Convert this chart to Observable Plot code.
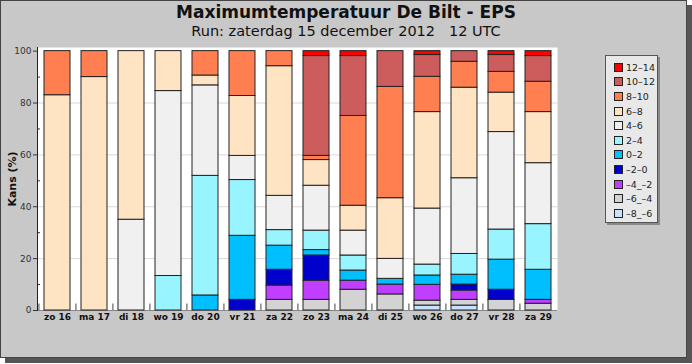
<!DOCTYPE html>
<html><head><meta charset="utf-8">
<script src="https://cdn.jsdelivr.net/npm/d3@7"></script>
<script src="https://cdn.jsdelivr.net/npm/@observablehq/plot@0.6"></script>
<style>
html,body{margin:0;padding:0;background:#fff;}
#wrap{position:relative;width:692px;height:364px;overflow:hidden;font-family:"DejaVu Sans",sans-serif;}
#panel{position:absolute;left:0;top:0;width:685px;height:356px;background:#c8c8c8;border:1px solid #444;box-shadow:5px 5px 0 #555;}
#title{position:absolute;left:0;top:0;width:692px;height:22px;text-align:center;font-weight:bold;font-size:17px;line-height:24px;color:#111;}
#sub{position:absolute;left:0;top:22px;width:692px;height:18px;text-align:center;font-size:14.5px;line-height:18px;color:#111;white-space:pre;}
#chart{position:absolute;left:0;top:40px;}
#ylab{position:absolute;left:12px;top:179px;transform:translate(-50%,-50%) rotate(-90deg);font-weight:bold;font-size:11px;color:#111;white-space:nowrap;}
#legend{position:absolute;left:605px;top:55px;width:53px;height:168px;background:#e8e8e8;border:1px solid #555;box-shadow:2px 2px 0 #8a8a8a;box-sizing:border-box;padding-top:4px;}
.li{height:14.6px;display:flex;align-items:center;padding-left:8px;font-size:9.5px;color:#222;white-space:nowrap;}
.sw{width:7px;height:7px;border:1px solid #222;margin-right:3px;flex:none;}
</style></head>
<body>
<div id="wrap">
  <div id="panel"></div>
  <div id="title">Maximumtemperatuur De Bilt - EPS</div>
  <div id="sub">Run: zaterdag 15 december 2012   12 UTC</div>
  <div id="chart"></div>
  <div id="ylab">Kans (%)</div>
  <div id="legend"></div>
</div>
<script>
const days = ["zo 16","ma 17","di 18","wo 19","do 20","vr 21","za 22","zo 23","ma 24","di 25","wo 26","do 27","vr 28","za 29"];
const classes = ["–8_–6","–6_–4","–4_–2","–2–0","0–2","2–4","4–6","6–8","8–10","10–12","12–14"];
const colors  = ["#c6e2ff","#d3d3d3","#bf3eff","#0000cd","#00bfff","#98f5ff","#f0f0f0","#ffe4c4","#ff7f50","#cd5c5c","#ff0000"];

// percent per class, one value per day
const m8_m6  = [0,0,0,0,0,0,0,0,0,0,1.9,1.9,0,0];
const m6_m4  = [0,0,0,0,0,0,4.1,4.1,8,6.2,1.9,2.2,4.1,2.6];
const m4_m2  = [0,0,0,0,0,0,5.5,7.4,3.5,3.8,6.1,3.6,0,1.5];
const m2_0   = [0,0,0,0,0,4.1,6.1,9.7,0,0,0,2.3,3.9,0];
const p0_2   = [0,0,0,0,5.8,24.7,9.3,2.1,3.9,2.2,3.6,3.8,11.6,11.6];
const p2_4   = [0,0,0,13.3,46.1,21.5,6,7.5,5.8,0,4.2,8,11.6,17.6];
const p4_6   = [0,0,35,71.3,34.9,9.3,13.2,17.3,9.6,7.7,21.6,29.2,37.6,23.5];
const p6_8   = [83,90,65,15.4,3.8,23.1,50,9.9,9.6,23.4,37.2,34.9,15.2,19.7];
const p8_10  = [17,10,0,0,9.4,17.3,5.8,1.6,34.6,42.9,13.6,10,8,11.7];
const p10_12 = [0,0,0,0,0,0,0,38.5,23.1,13.8,8.4,4.1,6.5,9.9];
const p12_14 = [0,0,0,0,0,0,0,1.9,1.9,0,1.5,0,1.5,1.9];
const series = [m8_m6,m6_m4,m4_m2,m2_0,p0_2,p2_4,p4_6,p6_8,p8_10,p10_12,p12_14];
const yTicks = [0,20,40,60,80,100];
const yMinor = [10,30,50,70,90];

const data = days.flatMap((d,i)=>classes.map((c,j)=>({day:d, cls:c, value:series[j][i]}))).filter(r=>r.value>0);

const W = 692, ML = 37, MR = 135;
const step = (W-ML-MR)/days.length;

const chart = Plot.plot({
  width: W, height: 300,
  marginLeft: ML, marginRight: MR, marginTop: 7, marginBottom: 30,
  style: {background:"transparent", fontFamily:"DejaVu Sans, sans-serif"},
  x: {domain: days, paddingInner: 0.3, paddingOuter: 0.15, label: null},
  y: {domain: [0, 101.4], label: null},
  color: {domain: classes, range: colors},
  marks: [
    Plot.frame({fill:"white", stroke:null}),
    Plot.gridY(yTicks.slice(1,-1), {stroke:"#d8d8d8", strokeOpacity:1}),
    Plot.axisY(yTicks, {tickSize:4, tickPadding:2, fontSize:9, fill:"#333", stroke:"#333", label:null}),
    Plot.axisY(yMinor, {tickSize:-3, text:null, stroke:"#333", label:null}),
    Plot.axisX({tickSize:0, tickPadding:3, fontSize:9, fontWeight:"bold", fill:"#111", label:null}),
    Plot.ruleY([0], {stroke:"#888"}),
    Plot.ruleX(days, {x:d=>d, dx:-step/2, y1:0, y2:2.5, stroke:"#444"}),
    Plot.barY(data, Plot.stackY({x:"day", y:"value", fill:"cls", order:classes, stroke:"#222", strokeWidth:1})),
    Plot.frame({anchor:"left", stroke:"#222"})
  ]
});
document.getElementById("chart").appendChild(chart);

const lg = document.getElementById("legend");
for (let j = classes.length-1; j >= 0; j--) {
  const row = document.createElement("div"); row.className = "li";
  const sw = document.createElement("div"); sw.className = "sw"; sw.style.background = colors[j];
  const t = document.createElement("span"); t.textContent = classes[j];
  row.appendChild(sw); row.appendChild(t); lg.appendChild(row);
}
</script>
</body></html>
